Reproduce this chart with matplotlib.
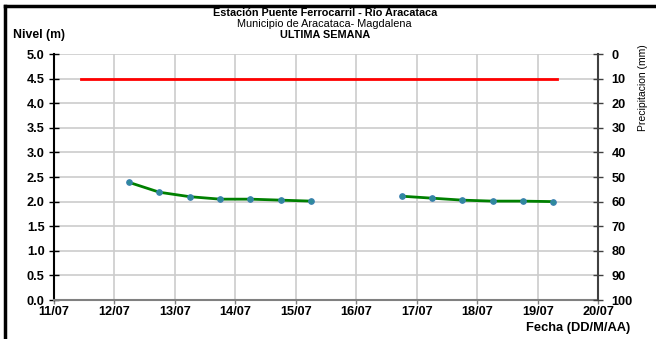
#!/usr/bin/env python3
# coding: utf-8

import matplotlib
matplotlib.use("Agg")
import matplotlib.pyplot as plt
import pandas as pd
from matplotlib.lines import Line2D

plt.rcParams["font.family"] = ["Liberation Sans", "DejaVu Sans"]

# nivel del rio, muestras cada 12 horas (None = sin dato)
fechas = ["2023-07-12 06:00", "2023-07-12 18:00", "2023-07-13 06:00", "2023-07-13 18:00",
          "2023-07-14 06:00", "2023-07-14 18:00", "2023-07-15 06:00", "2023-07-15 18:00",
          "2023-07-16 06:00", "2023-07-16 18:00", "2023-07-17 06:00", "2023-07-17 18:00",
          "2023-07-18 06:00", "2023-07-18 18:00", "2023-07-19 06:00"]
nivel = [2.39, 2.19, 2.10, 2.05, 2.05, 2.03, 2.01, None,
         None, 2.11, 2.07, 2.03, 2.01, 2.01, 2.00]

# nivel de alerta
alerta_fechas = ["2023-07-11 11:00", "2023-07-19 07:45"]
alerta_nivel = [4.5, 4.5]

dias = pd.date_range("2023-07-11", "2023-07-20", freq="D")
dias_labels = [d.strftime("%d/%m") for d in dias]
nivel_ticks = [i * 0.5 for i in range(11)]
precip_ticks = list(range(0, 110, 10))

df = pd.DataFrame({"fecha": pd.to_datetime(fechas), "nivel": nivel})
alerta = pd.DataFrame({"fecha": pd.to_datetime(alerta_fechas), "nivel": alerta_nivel})

tick_size = 9.2
title_size = 7.8

fig = plt.figure(figsize=(6.56, 3.39), dpi=100)
ax = fig.add_axes([0.0816, 0.115, 0.9123 - 0.0816, 0.8407 - 0.115])

ax.plot(alerta["fecha"], alerta["nivel"], color="#FF0000", lw=2, zorder=3)
ax.plot(df["fecha"], df["nivel"], color="#008000", lw=2, marker="o", ms=4,
        mfc="#2E8B9A", mec="#3A7FB0", mew=0.8, zorder=4)

ax.set_xlim(dias[0], dias[-1])
ax.set_ylim(0, 5)
ax.set_xticks(dias)
ax.set_xticklabels(dias_labels)
ax.set_yticks(nivel_ticks)
ax.set_yticklabels(["%.1f" % v for v in nivel_ticks])
ax.grid(True, color="#CCCCCC", lw=1.2)
ax.set_axisbelow(True)

for lab in ax.get_xticklabels() + ax.get_yticklabels():
    lab.set_fontweight("bold")
    lab.set_fontsize(tick_size)

ax.spines["top"].set_visible(False)
ax.spines["right"].set_visible(False)
ax.spines["left"].set_color("black")
ax.spines["left"].set_linewidth(1.5)
ax.spines["bottom"].set_color("#808080")
ax.spines["bottom"].set_linewidth(1.5)
ax.tick_params(axis="y", direction="inout", length=7, width=1, color="black", pad=3)
ax.tick_params(axis="x", direction="out", length=3, width=1, color="#808080", pad=1)

ax2 = ax.twinx()
ax2.set_ylim(100, 0)
ax2.set_yticks(precip_ticks)
ax2.set_yticklabels([str(v) for v in precip_ticks], fontweight="bold", fontsize=tick_size)
ax2.tick_params(axis="y", direction="inout", length=7, width=1, color="#404040", pad=6)
for s in ["top", "left", "bottom"]:
    ax2.spines[s].set_visible(False)
ax2.spines["right"].set_color("#404040")
ax2.spines["right"].set_linewidth(1.5)

fig.text(0.495, 1 - 13.5 / 339, u"Estación Puente Ferrocarril - Río Aracataca",
         ha="center", va="center", fontsize=title_size, fontweight="bold")
fig.text(0.495, 1 - 24 / 339, "Municipio de Aracataca- Magdalena",
         ha="center", va="center", fontsize=title_size)
fig.text(0.495, 1 - 34.5 / 339, "ULTIMA SEMANA",
         ha="center", va="center", fontsize=title_size, fontweight="bold")
fig.text(13 / 656, 1 - 35 / 339, "Nivel (m)", ha="left", va="center",
         fontsize=8.8, fontweight="bold")
fig.text(643 / 656, 1 - 88 / 339, "Precipitacion (mm)", ha="center", va="center",
         rotation=90, fontsize=7.5)
fig.text(630 / 656, 1 - 328 / 339, "Fecha (DD/M/AA)", ha="right", va="center",
         fontsize=9.3, fontweight="bold")

# marco de la figura
fig.add_artist(Line2D([5 / 656, 1.0], [1 - 6 / 339, 1 - 6 / 339], color="black", lw=2.5,
                      transform=fig.transFigure))
fig.add_artist(Line2D([5 / 656, 5 / 656], [1 - 6 / 339, 0.0], color="black", lw=2.5,
                      transform=fig.transFigure))

fig.savefig("out.png", dpi=100)
